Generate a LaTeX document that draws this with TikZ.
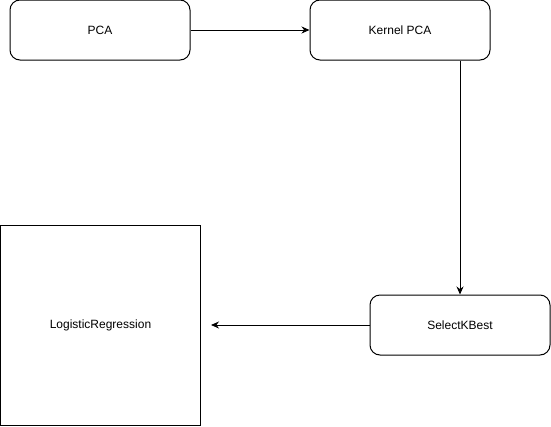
\documentclass[tikz,border=0pt]{standalone}
\usepackage{fontspec}
\setmainfont{Liberation Sans}
\usetikzlibrary{arrows.meta}

\begin{document}
\begin{tikzpicture}[x=1pt,y=-1pt,line width=1pt,
    box/.style={draw,rounded corners=10pt,minimum width=180pt,minimum height=60pt,inner sep=0pt,font=\fontsize{12}{14}\selectfont},
    arr/.style={-{Stealth[length=8pt,width=7pt]}}]
    \useasboundingbox (0,0) rectangle (551,426);
    \node[box] (PCA) at (100,30) {PCA};
    \node[box] (KPCA) at (400,30) {Kernel PCA};
    \node[box] (SKB) at (460,325) {SelectKBest};
    \node[box,rounded corners=0pt,minimum width=200pt,minimum height=200pt] (LR) at (100.5,325.5) {LogisticRegression};
    \coordinate (E) at (211,325);

    \draw[arr] (PCA) -- (KPCA);
    \draw[arr] (KPCA.south -| SKB) -- (SKB.north);
    \draw[arr] (SKB) -- (E);
  \end{tikzpicture}
\end{document}
